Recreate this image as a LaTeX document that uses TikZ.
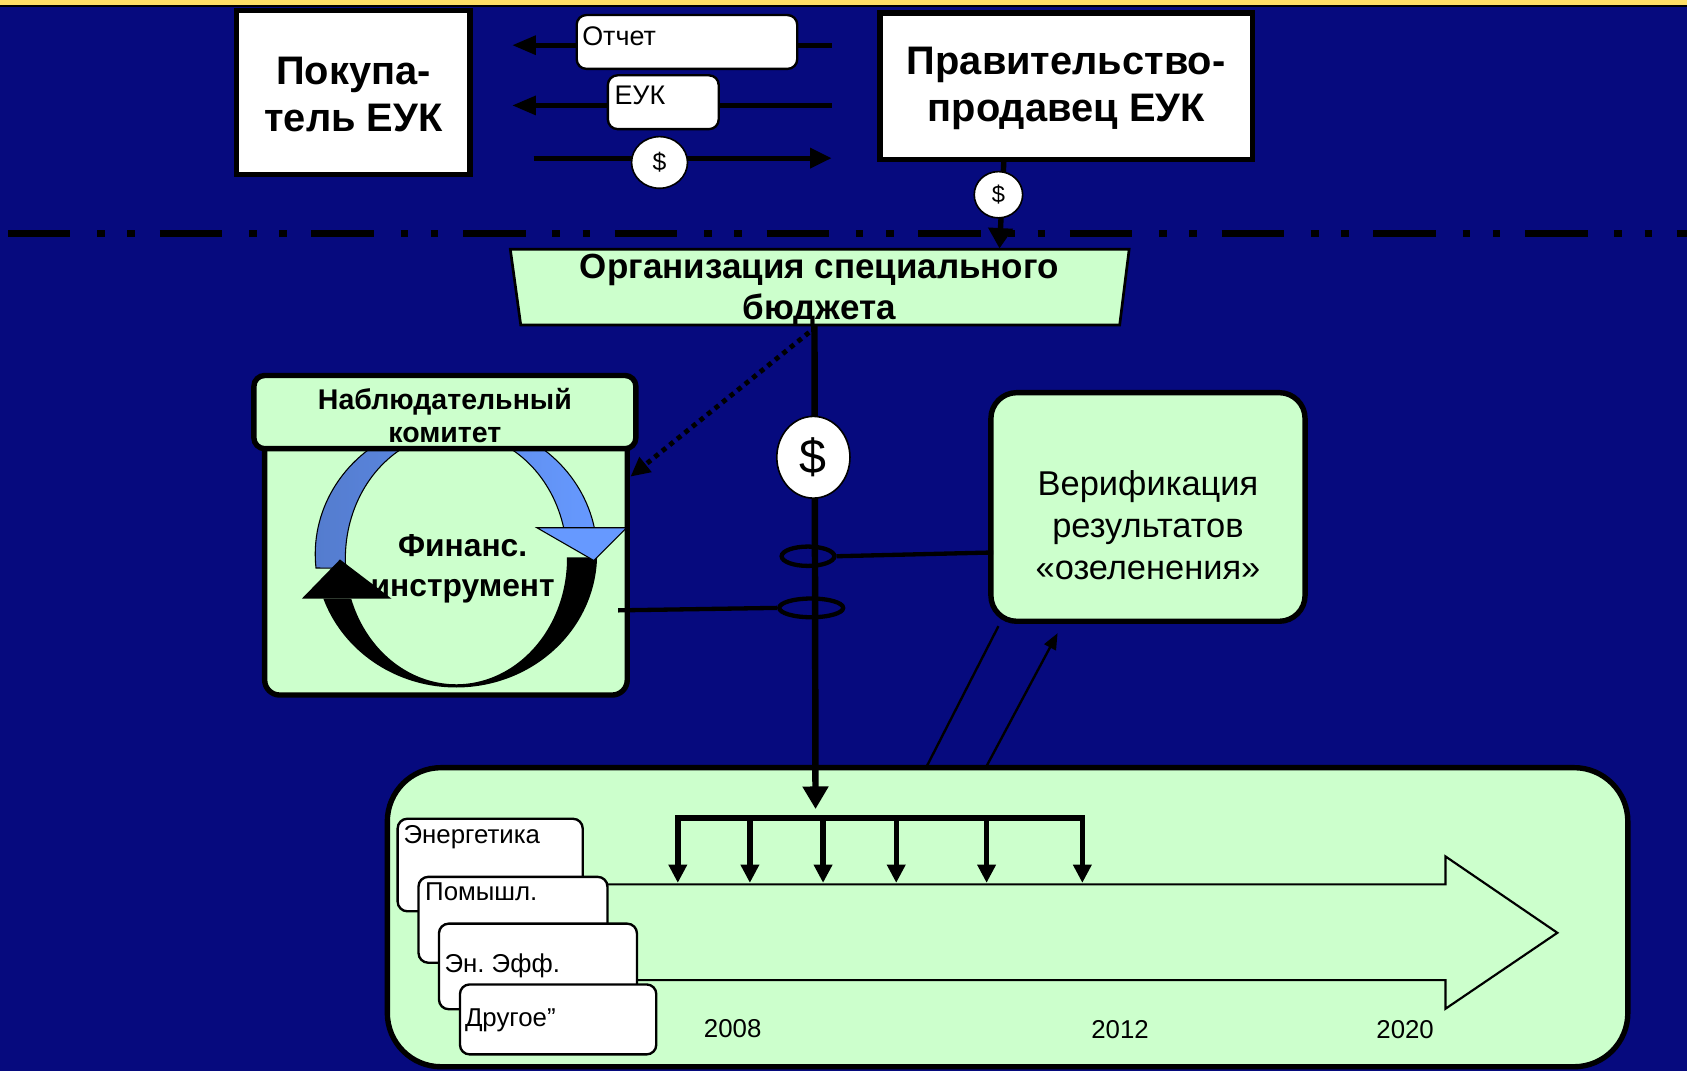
\documentclass[tikz,border=0pt]{standalone}
\usepackage{fontspec}
\setmainfont{Liberation Sans}
\usetikzlibrary{arrows.meta,shapes.geometric,calc}
\definecolor{bgblue}{RGB}{6,10,126}
\definecolor{topyellow}{RGB}{255,223,102}
\definecolor{lgreen}{RGB}{204,255,204}
\definecolor{blueL}{RGB}{84,124,206}
\definecolor{blueR}{RGB}{102,153,255}
\frenchspacing
\begin{document}
\begin{tikzpicture}[x=1pt,y=-1pt,
  whitebox/.style={draw=black,line width=5pt,fill=white,inner sep=0pt},
  greenbox/.style={draw=black,line width=5pt,fill=lgreen,inner sep=0pt},
  tagbox/.style={draw=black,line width=2.2pt,fill=white,rounded corners=9pt,inner sep=0pt},
  coin/.style={ellipse,draw=black,line width=1.5pt,fill=white,inner sep=0pt},
  ringnode/.style={ellipse,draw=black,line width=4pt,inner sep=0pt},
  flow/.style={line width=4.6pt},
  bigtitle/.style={font=\fontsize{37pt}{43.5pt}\selectfont\bfseries,align=center,inner sep=0pt},
  midtitle/.style={font=\fontsize{32.5pt}{38.5pt}\selectfont\bfseries,align=center,inner sep=0pt},
  hdrtitle/.style={font=\fontsize{26.5pt}{31pt}\selectfont\bfseries,align=center,inner sep=0pt},
  fintitle/.style={font=\fontsize{29.5pt}{37pt}\selectfont\bfseries,align=center,inner sep=0pt},
  vertitle/.style={font=\fontsize{32pt}{39pt}\selectfont,align=center,inner sep=0pt},
  tagtext/.style={font=\fontsize{25pt}{30pt}\selectfont,inner sep=0pt},
  lbltext/.style={font=\fontsize{24pt}{28pt}\selectfont,inner sep=0pt},
  yeartext/.style={font=\fontsize{24pt}{28pt}\selectfont,inner sep=0pt}
]
% background
\fill[bgblue] (0,0) rectangle (1568,995.4);
\useasboundingbox (0,0) rectangle (1568,995.4);
\fill[topyellow] (0,0) rectangle (1568,4.6);
\draw[line width=1.8pt] (0,5.6) -- (1568,5.6);

% top boxes
\node[whitebox,minimum width=217pt,minimum height=152pt] (buyer) at (328.5,86) {};
\node[bigtitle] (buyertxt) at (328.5,88) {Покупа-\\тель ЕУК};
\node[whitebox,minimum width=346pt,minimum height=136pt] (gov) at (991,80) {};
\node[bigtitle] (govtxt) at (991,82.5) {Правительство-\\продавец ЕУК};

% flows between buyer and government
\coordinate (f1s) at (773,42); \coordinate (f1e) at (476,42);
\coordinate (f2s) at (773,98); \coordinate (f2e) at (476,98);
\coordinate (f3s) at (496,147); \coordinate (f3e) at (773,147);
\draw[flow,-{Triangle[length=22pt,width=17pt]}] (f1s) -- (f1e);
\draw[flow,-{Triangle[length=22pt,width=17pt]}] (f2s) -- (f2e);
\draw[flow,-{Triangle[length=20pt,width=18pt]}] (f3s) -- (f3e);
\node[tagbox,minimum width=205pt,minimum height=50pt] (rep) at (638.5,39) {};
\node[tagtext,anchor=west] (reptxt) at (541,34) {Отчет};
\node[tagbox,minimum width=103pt,minimum height=50pt] (euk) at (616.5,95) {};
\node[tagtext,anchor=west] (euktxt) at (571,89) {ЕУК};
\node[coin,minimum width=52pt,minimum height=48pt,font=\fontsize{23pt}{27pt}\selectfont] (c1) at (613,151) {\$};

% separator
\coordinate (dl1) at (7.5,217); \coordinate (dl2) at (1568,217);
\draw[line width=6.5pt,dash pattern=on 58pt off 25pt on 7pt off 21pt on 7pt off 23pt] (dl1) -- (dl2);

% government -> budget
\coordinate (gout) at (933,150.5);
\coordinate (btin) at (929,231);
\draw[line width=5pt,-{Triangle[length=19pt,width=22pt]}] (gout) -- (btin);
\node[coin,minimum width=45pt,minimum height=43pt,font=\fontsize{22pt}{26pt}\selectfont] (c2) at (928,181) {\$};

% budget trapezoid
\draw[line width=2.5pt,fill=lgreen] (474.3,231.7) -- (1049.5,231.7) -- (1040.7,302) -- (484,302) -- cycle;
\node[midtitle] (budget) at (761.5,270) {Организация специального\\бюджета};

% bottom timeline box
\node[greenbox,rounded corners=50pt,minimum width=1153pt,minimum height=278pt] (tlbox) at (936.5,852.5) {};

% main vertical money flow
\coordinate (bbot) at (757,302);
\coordinate (mtip) at (758,752);
\draw[line width=6pt,-{Triangle[length=21pt,width=23pt]}] (bbot) -- (mtip);
\node[coin,minimum width=68pt,minimum height=76pt,font=\fontsize{45pt}{50pt}\selectfont] (c3) at (756,425) {\$};
\node[ringnode,minimum width=49pt,minimum height=18pt] (r1) at (751,517) {};
\node[ringnode,minimum width=59.4pt,minimum height=17.4pt] (r2) at (754,565) {};

% dotted arrow to committee
\coordinate (dots) at (752,309);
\coordinate (dote) at (586,443);
\draw[line width=4.5pt,dash pattern=on 4.5pt off 4.5pt,-{Triangle[length=18pt,width=17pt]}] (dots) -- (dote);

% verification box
\node[greenbox,rounded corners=24pt,minimum width=292pt,minimum height=212.5pt] (verif) at (1067,471.2) {};
\node[vertitle] (veriftxt) at (1067,488) {Верификация\\результатов\\«озеленения»};
\coordinate (vin) at (923,513.5);
\draw[line width=4pt] (r1.east) -- (vin);

% committee body
\node[greenbox,rounded corners=14pt,minimum width=337pt,minimum height=241pt] (finbox) at (414.5,525.5) {};
\node[fintitle] (fintxt) at (430,529) {Финанс.\\инструмент};
% blue circular arrow
\path[draw=black,line width=1pt,left color=blueL,right color=blueR]
  plot[domain=174:348.6,samples=80] ({424+131*cos(\x)},{515+124*sin(\x)})
  -- plot[domain=345.9:175.6,samples=80] ({424+103*cos(\x)},{519+117*sin(\x)}) -- cycle;
% black circular arrow
\fill[black]
  plot[domain=1.4:160.45,samples=80] ({424+131*cos(\x)},{515+124*sin(\x)})
  -- plot[domain=161.3:-0.5,samples=80] ({424+103*cos(\x)},{519+117*sin(\x)}) -- cycle;
\draw[line width=1pt,fill=blueR] (499,490.5) -- (582.5,490.5) -- (552,521) -- cycle;
\fill[black] (280.5,556.5) -- (364,556.5) -- (316,520) -- cycle;
\coordinate (fout) at (574.6,567.3);
\draw[line width=4pt] (fout) -- (r2.west);
% committee header
\node[greenbox,rounded corners=10pt,minimum width=355pt,minimum height=68pt] (hdr) at (413.5,383) {};
\node[hdrtitle] (hdrtxt) at (413.5,386) {Наблюдательный\\комитет};

% links timeline -> verification
\coordinate (va1) at (861.5,712); \coordinate (vb1) at (928,582);
\coordinate (va2) at (917,712); \coordinate (vb2) at (983,588.5);
\draw[line width=2.2pt] (va1) -- (vb1);
\draw[line width=2.2pt,-{Triangle[length=15pt,width=12pt]}] (va2) -- (vb2);

% timeline arrow
\draw[line width=2pt,fill=lgreen] (545,822) -- (1343.5,822) -- (1343.5,796) -- (1447.5,867)
  -- (1343.5,937.6) -- (1343.5,911) -- (545,911) -- cycle;

% distribution bracket
\coordinate (bt1) at (630,760.3); \coordinate (bt6) at (1006,760.3);
\coordinate (bb1) at (630,820.6); \coordinate (bb6) at (1006,820.6);
\draw[line width=5pt,line join=miter,{Triangle[length=17pt,width=16.5pt]}-{Triangle[length=17pt,width=16.5pt]}] (bb1) -- (bt1) -- (bt6) -- (bb6);
\foreach \xx/\nm in {697/bt2,765/bt3,833/bt4,917/bt5}{
  \coordinate (\nm) at (\xx,760.3);
  \coordinate (\nm d) at (\xx,820.6);
  \draw[line width=5pt,-{Triangle[length=17pt,width=16.5pt]}] (\nm) -- (\nm d);
}

% sector labels
\node[tagbox,minimum width=172pt,minimum height=86pt] (ene) at (455.6,804) {};
\node[lbltext,anchor=west] (enet) at (375,778) {Энергетика};
\node[tagbox,minimum width=175.6pt,minimum height=79.8pt] (pom) at (476.8,854.9) {};
\node[lbltext,anchor=west] (pomt) at (395,829) {Помышл.};
\node[tagbox,minimum width=184pt,minimum height=79.5pt] (eff) at (500,898.25) {};
\node[lbltext,anchor=west] (efft) at (413,898) {Эн. Эфф.};
\node[tagbox,minimum width=182.5pt,minimum height=65pt] (oth) at (518.75,947.5) {};
\node[lbltext,anchor=west] (otht) at (432,948) {Другое”};

% years
\node[yeartext] (y1) at (681,956) {2008};
\node[yeartext] (y2) at (1041,957) {2012};
\node[yeartext] (y3) at (1306,957) {2020};
\end{tikzpicture}
\end{document}
